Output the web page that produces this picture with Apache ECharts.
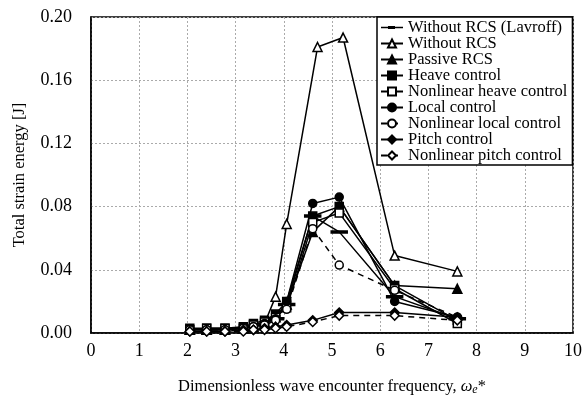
<!DOCTYPE html>
<html><head><meta charset="utf-8">
<script src="https://cdn.jsdelivr.net/npm/echarts@6/dist/echarts.min.js"></script>
<style>html,body{margin:0;padding:0;background:#fff}#c{width:585px;height:401px}</style>
</head><body><div id="c"></div>
<script>
const seriesNames = ["Without RCS (Lavroff)","Without RCS","Passive RCS","Heave control","Nonlinear heave control","Local control","Nonlinear local control","Pitch control","Nonlinear pitch control"];
const freqCtrl = [2.05, 2.4, 2.78, 3.16, 3.37, 3.6, 3.83, 4.06, 4.6, 5.15, 6.3, 7.6];
const freqNoRcs = [2.05, 2.4, 2.78, 3.16, 3.37, 3.6, 3.83, 4.06, 4.7, 5.23, 6.3, 7.6];
const freqLavroff = [3.83, 4.06, 4.6, 5.15, 6.3, 7.6];
const lavroff = [0.009, 0.018, 0.074, 0.064, 0.023, 0.009];
const withoutRcs = [0.002, 0.002, 0.002, 0.003, 0.004, 0.006, 0.023, 0.069, 0.181, 0.187, 0.049, 0.039];
const passiveRcs = [0.002, 0.002, 0.002, 0.003, 0.005, 0.007, 0.010, 0.018, 0.064, 0.080, 0.030, 0.028];
const heave = [0.003, 0.003, 0.003, 0.004, 0.006, 0.008, 0.012, 0.020, 0.074, 0.080, 0.030, 0.008];
const heaveNl = [0.002, 0.003, 0.003, 0.003, 0.005, 0.007, 0.010, 0.016, 0.070, 0.076, 0.028, 0.006];
const local = [0.002, 0.002, 0.002, 0.003, 0.004, 0.006, 0.009, 0.020, 0.082, 0.086, 0.020, 0.010];
const localNl = [0.002, 0.002, 0.002, 0.003, 0.004, 0.005, 0.008, 0.015, 0.066, 0.043, 0.027, 0.010];
const pitch = [0.001, 0.001, 0.001, 0.002, 0.002, 0.003, 0.004, 0.005, 0.008, 0.013, 0.013, 0.010];
const pitchNl = [0.001, 0.001, 0.001, 0.001, 0.002, 0.002, 0.003, 0.004, 0.007, 0.011, 0.011, 0.008];
const xTicks = [0,1,2,3,4,5,6,7,8,9,10];
const yTicks = [0.00,0.04,0.08,0.12,0.16,0.20];

const FONT = "'Liberation Serif','Times New Roman',serif";
function pairs(xs, ys){ return xs.map((x,i)=>[x, ys[i]]); }
function mk(name, xs, ys, symbol, filled, dashed, size){
  return {
    name, type:'line', data: pairs(xs, ys), symbol, symbolSize: size || 8,
    showAllSymbol: true,
    lineStyle:{color:'#000', width:1.5, type: dashed ? [6,5] : 'solid'},
    itemStyle:{color: filled ? '#000' : '#fff', borderColor:'#000', borderWidth:1.5},
    emphasis:{disabled:true}, animation:false
  };
}
const series = [
  mk(seriesNames[0], freqLavroff, lavroff, 'rect', true, false, [10,2]),
  mk(seriesNames[1], freqNoRcs, withoutRcs, 'triangle', false, false, 9),
  mk(seriesNames[2], freqCtrl, passiveRcs, 'triangle', true, false, 9),
  mk(seriesNames[3], freqCtrl, heave, 'rect', true, false, 8),
  mk(seriesNames[4], freqCtrl, heaveNl, 'rect', false, false, 8),
  mk(seriesNames[5], freqCtrl, local, 'circle', true, false, 8),
  mk(seriesNames[6], freqCtrl, localNl, 'circle', false, true, 8),
  mk(seriesNames[7], freqCtrl, pitch, 'diamond', true, false, 9),
  mk(seriesNames[8], freqCtrl, pitchNl, 'diamond', false, true, 9)
];
const legendData = seriesNames.map((n,i)=> i===0
  ? {name:n, icon:'path://M0,0h0.01v0.01h-0.01z M0,4.2H22V5.8H0Z M7,3.6H14V6.4H7Z M21.99,9.99h0.01v0.01h-0.01z',
     itemStyle:{color:'#000', borderWidth:0}}
  : {name:n});
const chart = echarts.init(document.getElementById('c'), null, {renderer:'canvas'});
chart.setOption({
  animation:false,
  backgroundColor:'#fff',
  grid:{left:91, right:12, top:17, bottom:68, show:true, borderColor:'#000', borderWidth:1.5, backgroundColor:'transparent'},
  xAxis:{type:'value', min:xTicks[0], max:xTicks[xTicks.length-1], interval:1,
    axisLine:{show:true, lineStyle:{color:'#000', width:1.5}}, axisTick:{show:false},
    splitLine:{show:true, lineStyle:{color:'#aaa', type:[2,2], width:1}},
    axisLabel:{color:'#000', fontFamily:FONT, fontSize:18, margin:9},
    name:'Dimensionless wave encounter frequency, {i|ω}{sub|e}{n|*}', nameLocation:'middle', nameGap:44,
    nameTextStyle:{color:'#000', fontFamily:FONT, fontSize:16.5,
      rich:{i:{fontFamily:FONT, fontSize:16.5, fontStyle:'italic', color:'#000'},
            sub:{fontFamily:FONT, fontSize:12, fontStyle:'italic', color:'#000', verticalAlign:'bottom', padding:[7,0,0,0]},
            n:{fontFamily:FONT, fontSize:16.5, color:'#000'}}}
  },
  yAxis:{type:'value', min:yTicks[0], max:yTicks[yTicks.length-1], interval:0.04,
    axisLine:{show:true, lineStyle:{color:'#000', width:1.5}}, axisTick:{show:false},
    splitLine:{show:true, lineStyle:{color:'#aaa', type:[2,2], width:1}},
    axisLabel:{color:'#000', fontFamily:FONT, fontSize:18, margin:19, formatter:v=>v.toFixed(2)},
    name:'Total strain energy [J]', nameLocation:'middle', nameGap:63,
    nameTextStyle:{color:'#000', fontFamily:FONT, fontSize:16.5}
  },
  legend:{show:true, orient:'vertical', left:377, top:17, data:legendData,
    backgroundColor:'#fff', borderColor:'#000', borderWidth:1.5, padding:[2,5,1,3],
    itemWidth:22, itemHeight:10, itemGap:-1,
    textStyle:{color:'#000', fontFamily:FONT, fontSize:16.5, lineHeight:16}, selectedMode:false},
  series
});
</script></body></html>
